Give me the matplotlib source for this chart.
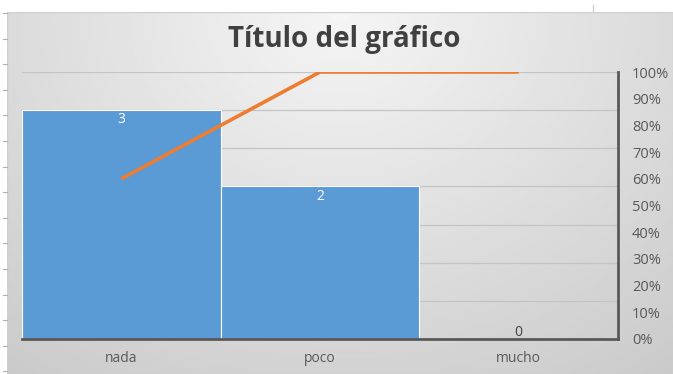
import numpy as np
import matplotlib
matplotlib.use("Agg")
import matplotlib.pyplot as plt
from matplotlib.ticker import PercentFormatter

# datos
categorias = ["nada", "poco", "mucho"]
frecuencia = [3, 2, 0]
acumulado = [0.6, 1.0, 1.0]
titulo = "Título del gráfico"

W, H = 673, 374
fig = plt.figure(figsize=(W / 100, H / 100), dpi=100)
fig.patch.set_facecolor("white")

# marcas de filas de la hoja (fondo de Excel)
for y in np.arange(13, H, 25.6):
    fig.add_artist(plt.Line2D([3 / W, 7 / W], [1 - y / H, 1 - y / H], color="#b0b0b0", lw=0.8))
fig.add_artist(plt.Line2D([593 / W, 593 / W], [1 - 5 / H, 1 - 11 / H], color="#d0d0d0", lw=1))

# área del gráfico con degradado radial
bg = fig.add_axes([7 / W, 0, 1 - 7 / W, 1 - 12 / H])
xx, yy = np.meshgrid(np.linspace(-1, 1, 400), np.linspace(0, 1, 220))
r = np.sqrt((xx * 0.85) ** 2 + (yy * 1.1) ** 2)
val = 0.96 - 0.17 * np.clip(r, 0, 1.4) / 1.4
bg.imshow(val, cmap="gray", vmin=0, vmax=1, aspect="auto", extent=[0, 1, 0, 1], origin="upper")
bg.add_patch(plt.Rectangle((0, 0), 1, 1, fill=False, ec="#cfcfcf", lw=1, transform=bg.transAxes))
bg.axis("off")

ax = fig.add_axes([22 / W, 1 - 339 / H, (618 - 22) / W, (339 - 72) / H])
ax.patch.set_alpha(0)
ax2 = ax.twinx()

x = np.arange(len(categorias))
bars = ax.bar(x, frecuencia, width=1.0, color="#5B9BD5", edgecolor="white", linewidth=0.8, zorder=2)
ax.set_xlim(-0.5, 2.5)
ax.set_ylim(0, 3.5)
ax.set_yticks(np.arange(0, 3.51, 0.5))
ax.yaxis.grid(True, color="#c4c4c4", lw=0.9, zorder=0)
ax.set_axisbelow(True)
ax.tick_params(axis="y", left=False, right=False, labelleft=False, labelright=False)
ax.tick_params(axis="x", length=0, pad=9, labelsize=10, labelcolor="#595959")
ax.set_xticks(x)
ax.set_xticklabels(categorias, family="Open Sans")
for s in ["left", "top", "right"]:
    ax.spines[s].set_visible(False)
ax.spines["bottom"].set_color("#595959")
ax.spines["bottom"].set_linewidth(2)
ax.spines["bottom"].set_zorder(5)

for b, v in zip(bars, frecuencia):
    if v > 0:
        ax.annotate(str(v), xy=(b.get_x() + b.get_width() / 2, v), xytext=(0, -7),
                    textcoords="offset points", ha="center", va="center",
                    color="white", fontsize=10, family="Open Sans", zorder=4)
    else:
        ax.annotate(str(v), xy=(b.get_x() + b.get_width() / 2, v), xytext=(0, 5),
                    textcoords="offset points", ha="center", va="center",
                    color="#404040", fontsize=10, family="Open Sans", zorder=4)

ax2.plot(x, acumulado, color="#ED7D31", lw=2.6, solid_capstyle="butt", zorder=6)
ax2.set_ylim(0, 1)
ax2.set_yticks(np.arange(0, 1.01, 0.1))
ax2.yaxis.set_major_formatter(PercentFormatter(1.0, decimals=0))
ax2.tick_params(axis="y", left=False, length=0, pad=10, labelsize=10.5, labelcolor="#595959")
for lab in ax2.get_yticklabels():
    lab.set_family("Open Sans")
for s in ["left", "top", "bottom"]:
    ax2.spines[s].set_visible(False)
ax2.spines["right"].set_color("#595959")
ax2.spines["right"].set_linewidth(2)

fig.text(344 / W, 1 - 40 / H, titulo, ha="center", va="center", fontsize=20,
         fontweight="bold", color="#404040", family="Open Sans")

fig.savefig("out.png", dpi=100)
